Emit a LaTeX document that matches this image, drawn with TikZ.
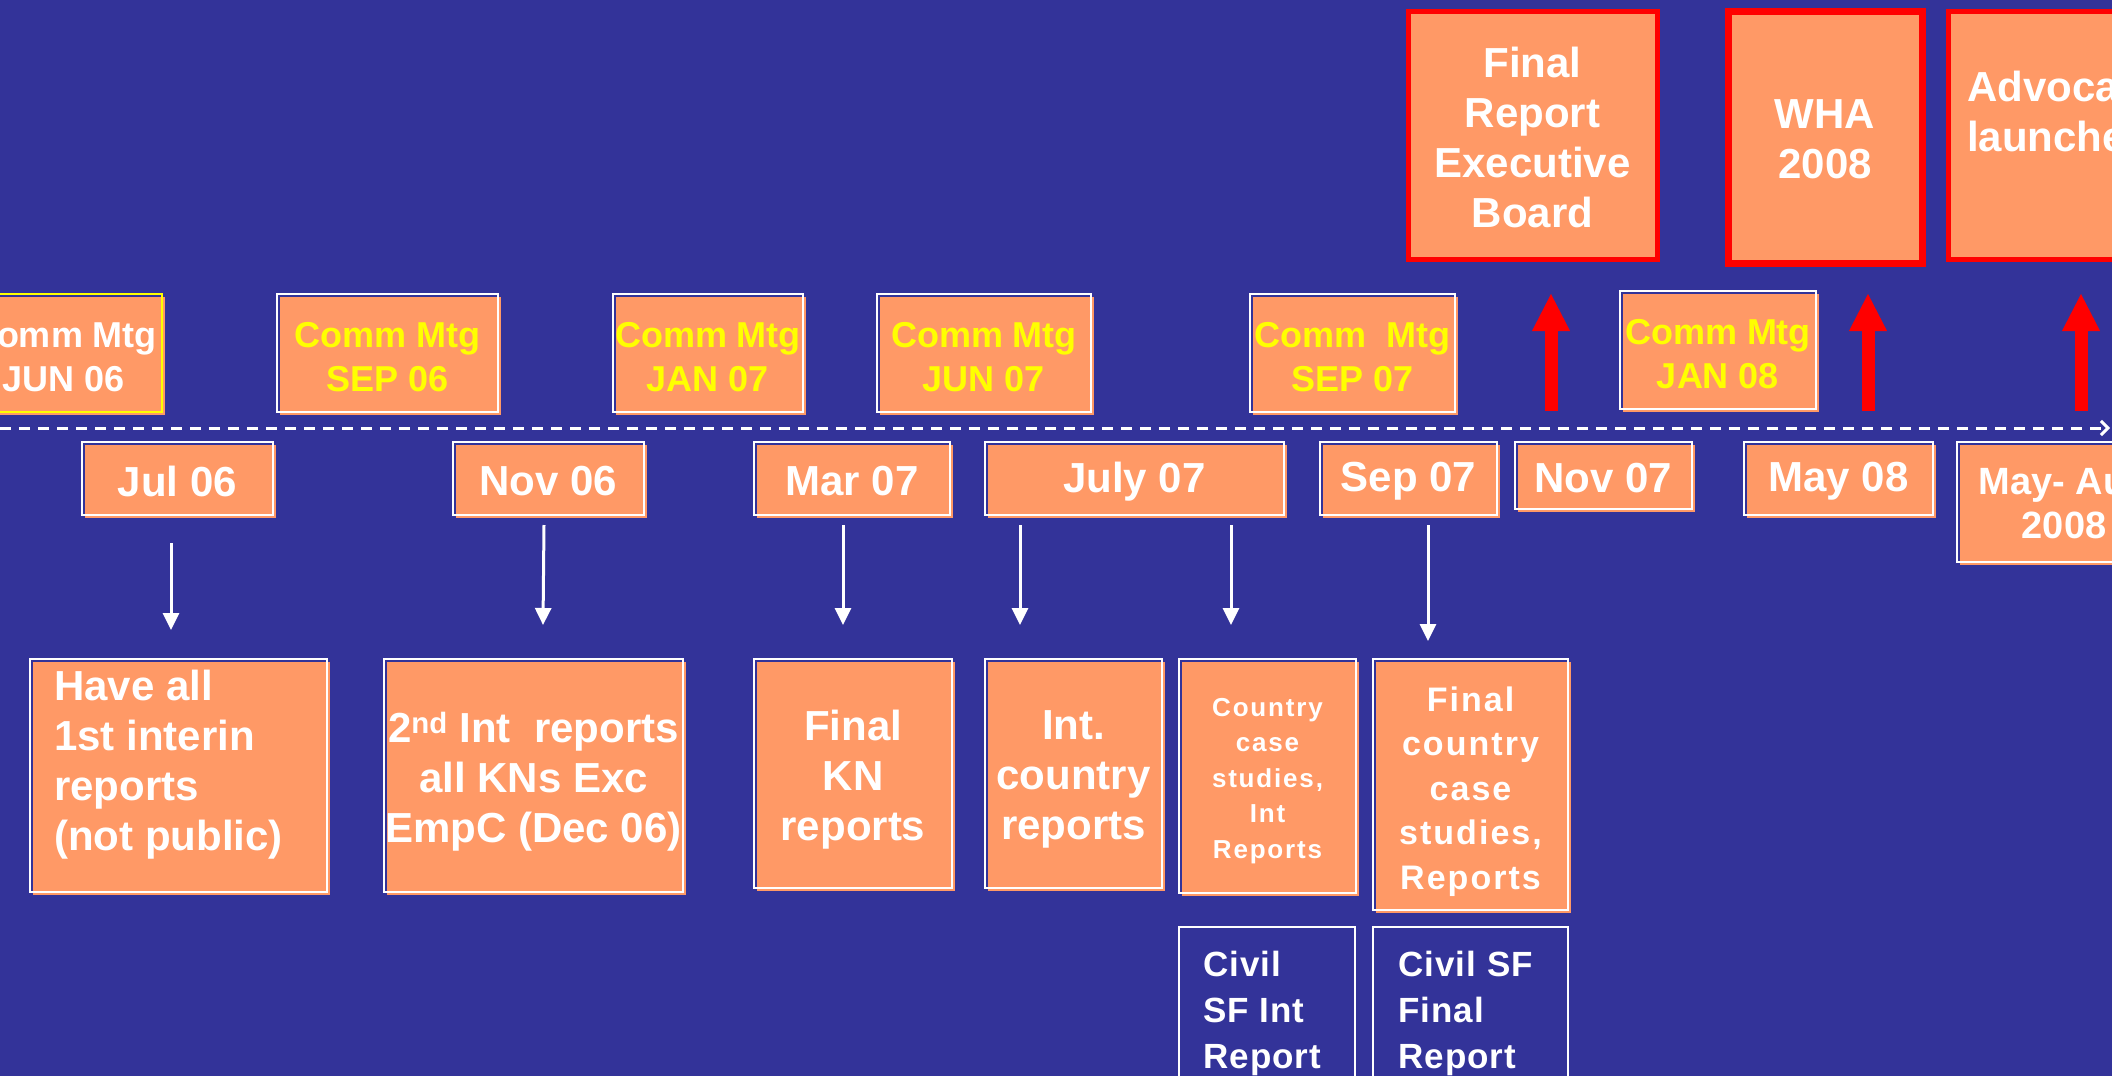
\documentclass[tikz,border=0pt]{standalone}
\usepackage{fontspec}
\setmainfont{Liberation Sans}
\usetikzlibrary{arrows.meta,shadows}
\definecolor{bg}{RGB}{51,51,153}
\definecolor{salmon}{RGB}{255,153,102}
\definecolor{yel}{RGB}{255,255,0}
\definecolor{rd}{RGB}{255,0,0}
\begin{document}
\begin{tikzpicture}[x=1pt,y=-1pt,
  bx/.style={draw=white, line width=2pt, inner sep=0pt,
    general shadow={fill=salmon, shadow xshift=3pt, shadow yshift=-3pt}},
  bigfont/.style={font=\bfseries\fontsize{42}{50}\selectfont},
  commfont/.style={font=\bfseries\fontsize{36}{44}\selectfont},
  comm/.style={bx},
  datebox/.style={bx},
  redbox/.style={bx, draw=rd, line width=5pt},
  lowbox/.style={bx},
  civbox/.style={draw=white, line width=2pt, inner sep=0pt},
  txt/.style={inner sep=0pt, text=white, align=left},
  ctxt/.style={inner sep=0pt, text=white, align=center},
  warrow/.style={white, line width=3pt, -{Triangle[width=16pt,length=17pt]}},
  rarrow/.style={rd, line width=13pt, -{Triangle[width=35pt,length=38pt]}},
  timeline/.style={white, line width=3pt, dash pattern=on 11pt off 8pt,
    -{Straight Barb[length=7pt,width=14pt]}}]
\useasboundingbox (0,0) rectangle (2112,1076);
\clip (0,0) rectangle (2112,1076);
\fill[bg] (0,0) rectangle (2112,1076);

% timeline
\coordinate (tl0) at (0,428);
\coordinate (tl1) at (2110,428);
\draw[timeline] (tl0) -- (tl1);

% committee meetings
\node[comm, draw=yel, minimum width=196pt, minimum height=118pt] (c1) at (64,353) {};
\node[ctxt, commfont] (c1t) at ([yshift=-4pt]c1.center) {Comm Mtg\\JUN 06};
\node[comm, minimum width=221pt, minimum height=118pt] (c2) at (387.5,353) {};
\node[ctxt, commfont, text=yel] (c2t) at ([yshift=-4pt]c2.center) {Comm Mtg\\SEP 06};
\node[comm, minimum width=190pt, minimum height=118pt] (c3) at (708,353) {};
\node[ctxt, commfont, text=yel] (c3t) at ([yshift=-4pt]c3.center) {Comm Mtg\\JAN 07};
\node[comm, minimum width=214pt, minimum height=118pt] (c4) at (984,353) {};
\node[ctxt, commfont, text=yel] (c4t) at ([yshift=-4pt]c4.center) {Comm Mtg\\JUN 07};
\node[comm, minimum width=205pt, minimum height=118pt] (c5) at (1352.5,353) {};
\node[ctxt, commfont, text=yel] (c5t) at ([yshift=-4pt]c5.center) {Comm\ \ Mtg\\SEP 07};
\node[comm, minimum width=196pt, minimum height=118pt] (c6) at (1718,350) {};
\node[ctxt, commfont, text=yel] (c6t) at ([yshift=-4pt]c6.center) {Comm Mtg\\JAN 08};

% top red boxes
\node[redbox, minimum width=249pt, minimum height=248pt] (f1) at (1532.5,135) {};
\node[ctxt, bigfont] (f1t) at ([yshift=-2pt]f1.center) {Final\\Report\\Executive\\Board};
\node[redbox, line width=7pt, minimum width=194pt, minimum height=252pt] (f2) at (1825,137) {};
\node[ctxt, bigfont] (f2t) at ([yshift=-2pt]f2.center) {WHA\\2008};
\node[redbox, minimum width=232pt, minimum height=248pt] (f3) at (2064,135) {};
\node[txt, bigfont, anchor=west] (f3t) at (1967,111) {Advocacy\\launched};

% red arrows
\coordinate (r1s) at (1551,411); \coordinate (r1e) at (1551,293);
\coordinate (r2s) at (1868,411); \coordinate (r2e) at (1868,293);
\coordinate (r3s) at (2081,411); \coordinate (r3e) at (2081,293);
\draw[rarrow] (r1s) -- (r1e);
\draw[rarrow] (r2s) -- (r2e);
\draw[rarrow] (r3s) -- (r3e);

% date boxes
\node[datebox, minimum width=191pt, minimum height=73pt] (d1) at (177.5,478.5) {};
\node[ctxt, bigfont] (d1t) at ([yshift=-3pt]d1.center) {Jul 06};
\node[datebox, minimum width=191pt, minimum height=73pt] (d2) at (548.5,478.5) {};
\node[ctxt, bigfont] (d2t) at ([yshift=-3pt]d2.center) {Nov 06};
\node[datebox, minimum width=196pt, minimum height=73pt] (d3) at (852,478.5) {};
\node[ctxt, bigfont] (d3t) at ([yshift=-3pt]d3.center) {Mar 07};
\node[datebox, minimum width=299pt, minimum height=73pt] (d4) at (1134.5,478.5) {};
\node[ctxt, bigfont] (d4t) at ([yshift=-3pt]d4.center) {July 07};
\node[datebox, minimum width=177pt, minimum height=73pt] (d5) at (1408.5,478.5) {};
\node[ctxt, bigfont] (d5t) at ([yshift=-3pt]d5.center) {Sep 07};
\node[datebox, minimum width=177pt, minimum height=67pt] (d6) at (1603.5,475.5) {};
\node[ctxt, bigfont] (d6t) at ([yshift=-3pt]d6.center) {Nov 07};
\node[datebox, minimum width=189pt, minimum height=73pt] (d7) at (1838.5,478.5) {};
\node[ctxt, bigfont] (d7t) at ([yshift=-3pt]d7.center) {May 08};
\node[datebox, minimum width=214pt, minimum height=120pt] (d8) at (2064,502) {};
\node[ctxt, font=\bfseries\fontsize{38}{44}\selectfont] (d8t) at ([yshift=-2pt]d8.center) {May- Aug\\2008};

% lower boxes
\node[lowbox, minimum width=297pt, minimum height=233pt] (b1) at (178.5,775.5) {};
\node[txt, bigfont, anchor=west] (b1t) at (54,765) {Have all\\1st interin\\reports\\(not public)};
\node[lowbox, minimum width=299pt, minimum height=233pt] (b2) at (533.5,775.5) {};
\node[ctxt, bigfont] (b2t) at ([yshift=-6pt]b2.center) {2\textsuperscript{nd} Int\ \ reports\\all KNs Exc\\EmpC (Dec 06)};
\node[lowbox, minimum width=198pt, minimum height=229pt] (b3) at (853,773.5) {};
\node[ctxt, bigfont] (b3t) at ([yshift=-6pt]b3.center) {Final\\KN\\reports};
\node[lowbox, minimum width=177pt, minimum height=229pt] (b4) at (1073.5,773.5) {};
\node[ctxt, bigfont] (b4t) at ([yshift=-6pt]b4.center) {Int.\\country\\reports};
\node[lowbox, minimum width=177pt, minimum height=234pt] (b5) at (1267.5,776) {};
\node[ctxt, font=\bfseries\fontsize{26}{35.5}\selectfont\addfontfeature{LetterSpace=7}] (b5t) at ([yshift=-5pt]b5.center) {Country\\case\\studies,\\Int\\Reports};
\node[lowbox, minimum width=195pt, minimum height=251pt] (b6) at (1470.5,784.5) {};
\node[ctxt, font=\bfseries\fontsize{34}{44.6}\selectfont\addfontfeature{LetterSpace=6}] (b6t) at ([yshift=-7pt]b6.center) {Final\\country\\case\\studies,\\Reports};
\node[civbox, minimum width=176pt, minimum height=183pt] (b7) at (1266.5,1018.5) {};
\node[txt, font=\bfseries\fontsize{35}{46}\selectfont\addfontfeature{LetterSpace=3}, anchor=west] (b7t) at (1203,1013) {Civil\\SF Int\\Report};
\node[civbox, minimum width=195pt, minimum height=183pt] (b8) at (1470.5,1018.5) {};
\node[txt, font=\bfseries\fontsize{35}{46}\selectfont\addfontfeature{LetterSpace=3}, anchor=west] (b8t) at (1398,1013) {Civil SF\\Final\\Report};

% white arrows
\coordinate (a1s) at (171,543);  \coordinate (a1e) at (171,630);
\coordinate (a2s) at (544,525);  \coordinate (a2e) at (543,625);
\coordinate (a3s) at (843,525);  \coordinate (a3e) at (843,625);
\coordinate (a4s) at (1020,525); \coordinate (a4e) at (1020,625);
\coordinate (a5s) at (1231,525); \coordinate (a5e) at (1231,625);
\coordinate (a6s) at (1428,525); \coordinate (a6e) at (1428,641);
\draw[warrow] (a1s) -- (a1e);
\draw[warrow] (a2s) -- (a2e);
\draw[warrow] (a3s) -- (a3e);
\draw[warrow] (a4s) -- (a4e);
\draw[warrow] (a5s) -- (a5e);
\draw[warrow] (a6s) -- (a6e);
\end{tikzpicture}
\end{document}
